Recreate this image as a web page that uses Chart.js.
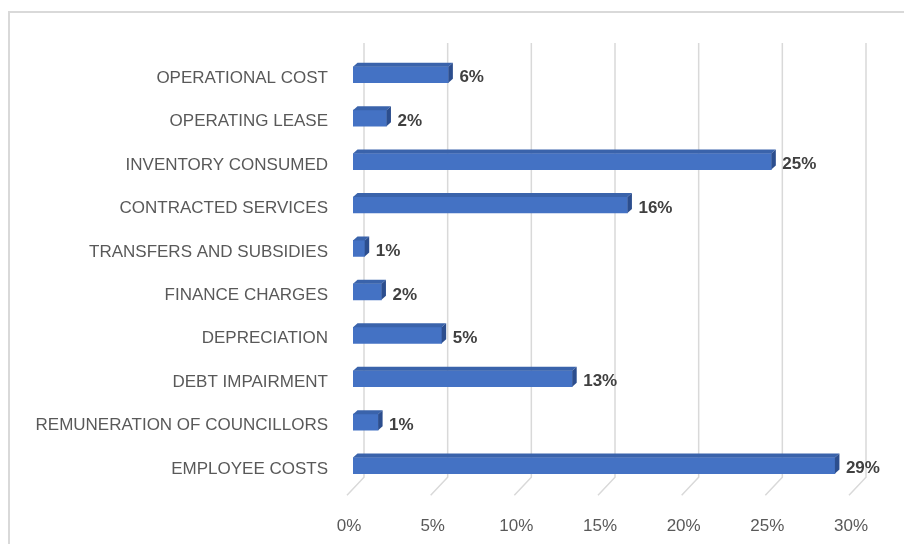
<!DOCTYPE html>
<html>
<head>
<meta charset="utf-8">
<script src="https://cdn.jsdelivr.net/npm/chart.js@4.4.1/dist/chart.umd.min.js"></script>
<style>
html,body{margin:0;padding:0;background:#fff;}
#wrap{width:904px;height:544px;position:relative;}
</style>
</head>
<body>
<div id="wrap"><canvas id="c" width="904" height="544"></canvas></div>
<script>
const categories = ["OPERATIONAL COST","OPERATING LEASE","INVENTORY CONSUMED","CONTRACTED SERVICES","TRANSFERS AND SUBSIDIES","FINANCE CHARGES","DEPRECIATION","DEBT IMPAIRMENT","REMUNERATION OF COUNCILLORS","EMPLOYEE COSTS"];
const values = [5.7, 2.0, 25.0, 16.4, 0.7, 1.7, 5.3, 13.1, 1.5, 28.8];
const valueLabels = ["6%","2%","25%","16%","1%","2%","5%","13%","1%","29%"];
const xTicks = [0, 5, 10, 15, 20, 25, 30];

const FONT = "'Liberation Sans', Arial, sans-serif";

const frame = {
  id: 'frame',
  beforeDraw(chart) {
    const ctx = chart.ctx;
    ctx.save();
    ctx.strokeStyle = '#d9d9d9';
    ctx.lineWidth = 2;
    ctx.beginPath();
    ctx.moveTo(9, 544);
    ctx.lineTo(9, 12);
    ctx.lineTo(904, 12);
    ctx.stroke();
    ctx.restore();
  }
};

const grid3d = {
  id: 'grid3d',
  beforeDatasetsDraw(chart) {
    const ctx = chart.ctx;
    const xs = chart.scales.x;
    const area = chart.chartArea;
    ctx.save();
    ctx.strokeStyle = '#d9d9d9';
    ctx.lineWidth = 1.5;
    xTicks.forEach(v => {
      const px = xs.getPixelForValue(v);
      ctx.beginPath();
      ctx.moveTo(px + 11, area.top - 10);
      ctx.lineTo(px + 11, area.bottom - 10);
      ctx.lineTo(px - 6, area.bottom + 8);
      ctx.stroke();
    });
    ctx.restore();
  }
};

const bar3d = {
  id: 'bar3d',
  afterDatasetsDraw(chart) {
    const ctx = chart.ctx;
    const meta = chart.getDatasetMeta(0);
    const dx = 4.5, dy = 4;
    ctx.save();
    meta.data.forEach((el, i) => {
      const p = el.getProps(['x', 'y', 'base', 'height'], true);
      const top = p.y - p.height / 2, bot = p.y + p.height / 2;
      // top face
      ctx.fillStyle = '#3A63AB';
      ctx.beginPath();
      ctx.moveTo(p.base, top);
      ctx.lineTo(p.x, top);
      ctx.lineTo(p.x + dx, top - dy);
      ctx.lineTo(p.base + dx, top - dy);
      ctx.closePath();
      ctx.fill();
      // right face
      ctx.fillStyle = '#2C4E8E';
      ctx.beginPath();
      ctx.moveTo(p.x, top);
      ctx.lineTo(p.x + dx, top - dy);
      ctx.lineTo(p.x + dx, bot - dy);
      ctx.lineTo(p.x, bot);
      ctx.closePath();
      ctx.fill();
      // value label
      ctx.fillStyle = '#404040';
      ctx.font = "bold 17px " + FONT;
      ctx.textAlign = 'left';
      ctx.textBaseline = 'middle';
      ctx.fillText(valueLabels[i], p.x + 11, p.y + 3);
    });
    ctx.restore();
  }
};

new Chart(document.getElementById('c'), {
  type: 'bar',
  data: {
    labels: categories,
    datasets: [{
      data: values,
      backgroundColor: '#4472C4',
      borderWidth: 0,
      barThickness: 16
    }]
  },
  options: {
    indexAxis: 'y',
    responsive: false,
    animation: false,
    devicePixelRatio: 1,
    layout: { padding: { top: 53, right: 49, left: 0, bottom: 0 } },
    plugins: { legend: { display: false }, tooltip: { enabled: false } },
    scales: {
      x: {
        min: 0, max: 30,
        afterBuildTicks(scale) { scale.ticks = xTicks.map(v => ({ value: v })); },
        afterFit(scale) { scale.height = 56.7; },
        grid: { display: false, drawTicks: false },
        border: { display: false },
        ticks: {
          color: '#595959',
          font: { family: FONT, size: 17 },
          padding: 29,
          labelOffset: -4,
          callback: v => v + '%'
        }
      },
      y: {
        afterFit(scale) { scale.width = 353; },
        grid: { display: false, drawTicks: false },
        border: { display: false },
        ticks: {
          color: '#595959',
          font: { family: FONT, size: 17 },
          padding: 25,
          labelOffset: 3.5,
          autoSkip: false
        }
      }
    }
  },
  plugins: [frame, grid3d, bar3d]
});
</script>
</body>
</html>
